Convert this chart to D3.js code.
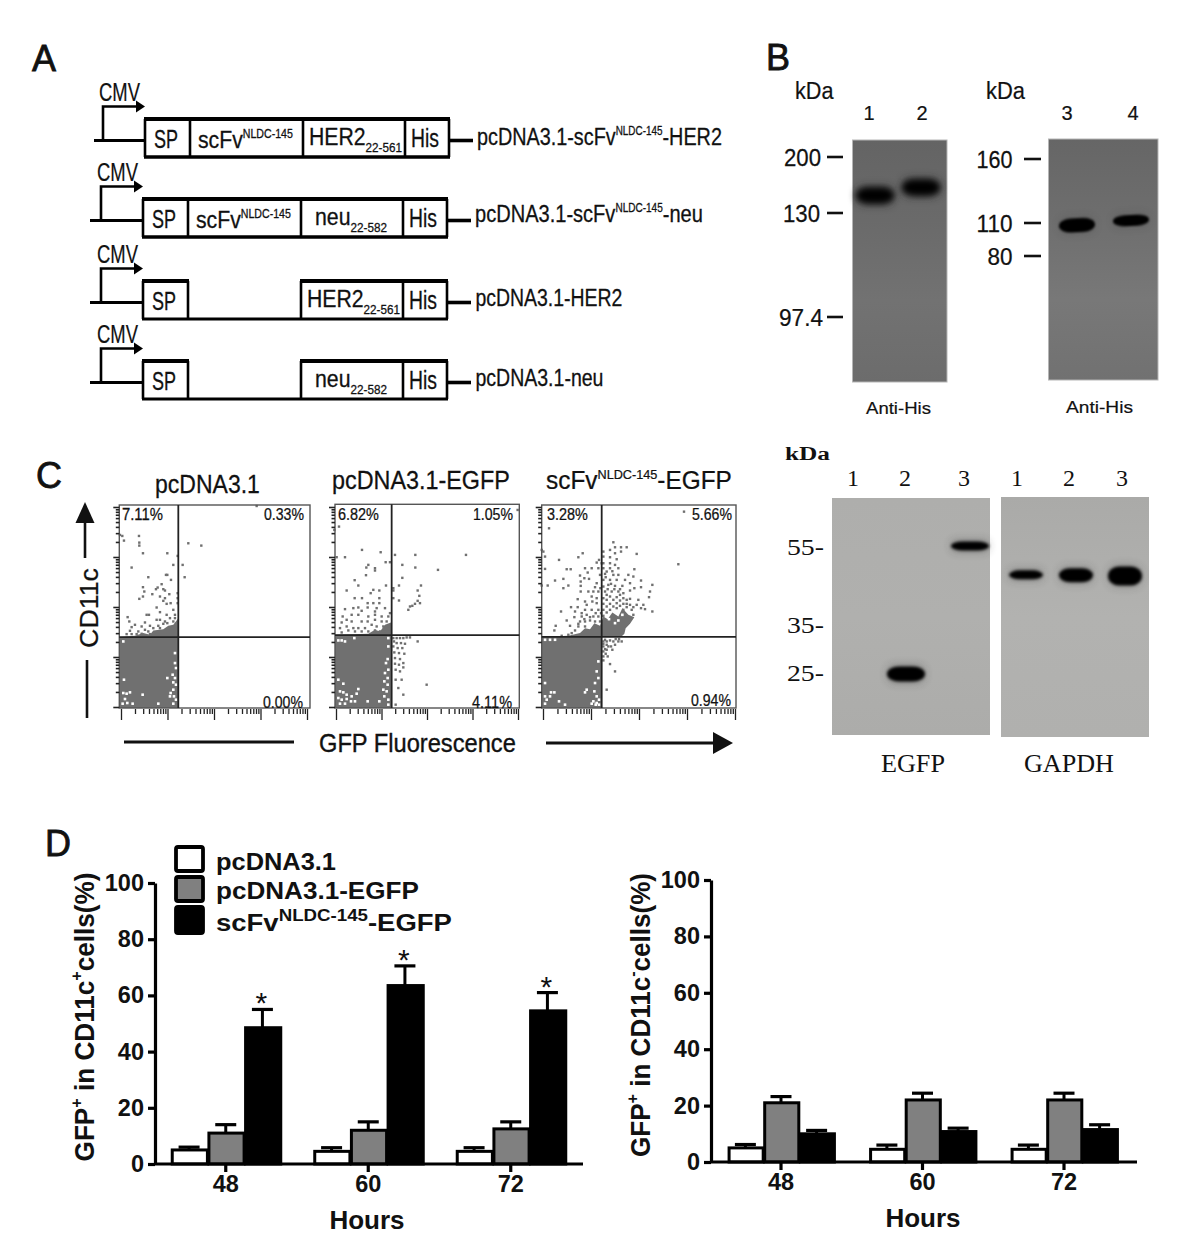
<!DOCTYPE html>
<html><head><meta charset="utf-8">
<script src="https://cdn.jsdelivr.net/npm/d3@7/dist/d3.min.js"></script>
<style>html,body{margin:0;padding:0;background:#fff}svg{display:block}</style>
</head><body><svg id="fig" width="1200" height="1260"></svg>
<script>
/* ---------- DATA ---------- */
// Panel A
const constructNames = [
  ["pcDNA3.1-scFv",["NLDC-145","sup"],"-HER2"],
  ["pcDNA3.1-scFv",["NLDC-145","sup"],"-neu"],
  ["pcDNA3.1-HER2"],
  ["pcDNA3.1-neu"]
];
const constructHasScFv = [true, true, false, false];
const constructInsert = [["HER2",["22-561","sub"]],["neu",["22-582","sub"]],["HER2",["22-561","sub"]],["neu",["22-582","sub"]]];
// Panel B
const blotB1Markers = [200, 130, 97.4];
const blotB1Lanes = ["1","2"];
const blotB1Bands = [152, 162];
const blotB1Signal = [8, 8];
const blotB2Markers = [160, 110, 80];
const blotB2Lanes = ["3","4"];
const blotB2Bands = [108, 112];
const blotB2Signal = [7, 5.5];
// Panel C blots
const westernMarkers = [55, 35, 25];
const westernLanes = ["1","2","3"];
const egfpBands = [null, 24.6, 55];
const egfpSignal = [0, 7.5, 4.5];
const gapdhBands = [47.6, 47.5, 47.3];
const gapdhSignal = [4.5, 7, 9.5];
// Panel C flow plots (channel readings, x then y)
const flowTitles = [["pcDNA3.1"],["pcDNA3.1-EGFP"],["scFv",["NLDC-145","sup"],"-EGFP"]];
const flowPercents = [["7.11%","0.33%","0.00%"],["6.82%","1.05%","4.11%"],["3.28%","5.66%","0.94%"]];
const flowDense1 = [[28,412],[75,408],[100,400],[120,405],[130,392],[160,388],[175,378],[190,375],[205,355],[205,625],[28,625]];
const flowDense2 = [[30,405],[130,402],[150,390],[165,395],[180,375],[198,368],[198,625],[30,625]];
const flowDense3 = [[20,412],[100,408],[135,400],[150,385],[165,388],[178,370],[195,378],[205,350],[218,358],[232,338],[250,350],[262,325],[280,345],[298,352],[285,372],[272,385],[268,402],[258,412],[200,412],[200,625],[20,625]];
const flowGaps1 = [[40,425],[195,460],[195,490],[198,505],[172,535],[188,525],[195,535],[190,548],[198,555],[42,540],[190,570],[182,580],[192,590],[180,590],[198,600],[40,580],[50,582],[60,578],[45,598],[52,610],[38,612],[68,612],[98,585],[145,612],[190,612]];
const flowGaps2 = [[40,422],[50,422],[60,425],[88,415],[190,415],[190,440],[188,478],[183,490],[190,510],[180,520],[188,535],[178,545],[188,555],[175,570],[185,575],[178,590],[190,600],[40,540],[55,552],[45,575],[55,578],[65,585],[80,590],[95,582],[100,568],[40,595],[50,600],[65,598],[78,605],[60,612],[45,612],[90,605],[128,605],[163,605],[190,615]];
const flowGaps3 = [[30,420],[45,420],[60,420],[190,485],[185,515],[190,535],[180,550],[30,550],[30,590],[48,578],[58,578],[35,600],[45,590],[72,605],[90,615],[150,578],[155,570],[178,575],[185,590],[175,605],[185,610],[192,600],[170,612],[182,615],[192,615],[30,612],[240,370],[222,358],[250,362],[262,345]];
const flowDots1 = [[30,105],[37,108],[42,122],[87,108],[88,128],[88,137],[99,160],[172,160],[203,168],[190,195],[218,195],[65,203],[168,225],[172,225],[115,232],[183,240],[224,232],[235,130],[274,137],[155,253],[143,263],[99,262],[138,268],[160,268],[165,272],[103,275],[127,283],[99,290],[88,297],[150,290],[165,295],[178,283],[160,303],[182,310],[170,312],[203,280],[203,295],[203,310],[140,323],[190,330],[110,345],[117,345],[150,337],[195,345],[170,345],[53,352],[58,365],[105,368],[140,360],[150,360],[165,365],[180,355],[195,355],[75,375],[65,382],[95,380],[120,378],[145,378],[160,372],[172,370],[190,365],[60,393],[85,395],[105,390],[115,395],[130,385],[150,385],[80,403],[95,402],[50,403],[65,403],[120,403],[440,18]];
const flowDots2 = [[42,80],[28,90],[111,150],[167,157],[35,172],[60,172],[210,165],[271,165],[423,165],[182,187],[195,187],[130,195],[124,203],[150,205],[150,212],[232,195],[271,203],[339,210],[123,226],[89,241],[232,234],[100,257],[183,257],[222,257],[288,257],[205,265],[65,272],[145,270],[137,280],[163,272],[205,272],[278,272],[283,288],[89,295],[111,295],[163,295],[205,295],[222,302],[278,303],[285,310],[270,312],[262,318],[255,320],[250,330],[128,310],[145,310],[163,310],[100,323],[85,325],[60,328],[128,323],[155,325],[180,325],[110,333],[150,335],[195,340],[53,350],[80,345],[100,345],[130,350],[150,345],[170,350],[190,350],[65,360],[50,368],[80,365],[110,365],[128,365],[150,360],[170,365],[185,365],[65,380],[45,385],[85,385],[100,385],[120,385],[140,375],[155,380],[175,380],[190,380],[70,392],[90,395],[110,395],[130,395],[150,392],[165,395],[180,395],[195,395],[50,398],[205,415],[215,415],[225,415],[235,415],[245,413],[255,413],[278,425],[207,425],[215,430],[228,430],[240,432],[205,440],[218,445],[232,445],[208,458],[222,460],[238,462],[210,475],[225,478],[235,490],[210,492],[222,495],[235,503],[212,510],[225,515],[212,540],[230,540],[305,555],[220,565],[235,585],[212,615],[578,30]];
const flowDots3 = [[42,85],[235,127],[275,142],[240,142],[258,142],[225,150],[240,160],[258,155],[20,150],[25,155],[30,170],[143,160],[130,172],[205,155],[305,162],[72,180],[192,180],[185,188],[205,170],[225,172],[245,178],[430,193],[205,190],[225,190],[240,195],[30,207],[95,208],[107,208],[150,205],[170,205],[190,205],[205,205],[225,205],[250,205],[298,208],[158,218],[135,227],[148,235],[162,237],[195,225],[210,222],[235,225],[250,225],[280,225],[295,230],[60,242],[85,237],[137,245],[185,250],[205,240],[225,240],[245,240],[270,240],[318,242],[20,257],[38,257],[100,257],[85,265],[137,258],[180,262],[205,260],[220,255],[240,258],[262,258],[285,250],[352,255],[318,262],[298,265],[137,275],[175,275],[190,275],[210,275],[230,275],[250,275],[265,280],[285,272],[345,275],[342,292],[128,298],[170,290],[185,295],[205,295],[225,290],[245,292],[265,295],[285,297],[310,300],[150,305],[155,315],[128,322],[108,322],[185,310],[205,312],[225,312],[245,310],[265,312],[285,315],[305,315],[325,315],[78,335],[120,335],[150,330],[170,330],[190,330],[205,330],[225,330],[245,325],[265,330],[290,330],[318,325],[330,328],[352,335],[118,352],[140,350],[155,345],[175,350],[190,350],[205,348],[95,362],[135,365],[150,365],[165,362],[180,365],[195,365],[105,378],[130,380],[150,380],[62,378],[58,392],[120,392],[100,405],[80,408],[110,400],[205,425],[215,425],[235,425],[250,425],[205,440],[220,440],[240,435],[205,455],[215,450],[232,450],[205,470],[218,470],[205,482],[225,493],[240,515],[215,570],[210,420],[260,425],[447,35],[200,190],[215,215],[228,252],[196,265],[160,275],[172,305],[140,340],[215,300],[255,285],[275,300],[295,345],
  [212,232],[232,214],[218,268],[238,268],[255,268],[215,285],[235,300],[255,302],[275,312],[215,320],[235,320],[255,318],[275,322],[295,322],[215,338],[198,340],[182,340],[165,352],[148,358],[130,372],[205,408],[215,435],[228,440],[210,448],[225,422],[242,418],[252,418],[205,432],[212,462]];
// Panel D
const hours = ["48","60","72"];
const seriesNames = [["pcDNA3.1"],["pcDNA3.1-EGFP"],["scFv",["NLDC-145","sup"],"-EGFP"]];
const yTicks = [0,20,40,60,80,100];
const posMeans = [[5,4.5,4.5],[11,12,12.5],[48.5,63.5,54.5]];
const posTops  = [[6,5.8,5.8],[14,15,15],[55,70.5,61]];
const negMeans = [[5,4.5,4.5],[21,22,22],[10,10.8,11.5]];
const negTops  = [[6.2,6,6],[23.2,24.4,24.4],[11.2,12,13.2]];
const posStars = [true,true,true];

/* ---------- HELPERS ---------- */
const SANS="'Liberation Sans',Arial,sans-serif", SERIF="'Liberation Serif','Times New Roman',serif";
const svg=d3.select("#fig");
svg.append("rect").attr("width",1200).attr("height",1260).attr("fill","#fff");
const defs=svg.append("defs");
[[1,"blur1"],[1.6,"blur2"],[3,"blur3"],[4.5,"blur4"]].forEach(([s,id])=>{
  defs.append("filter").attr("id",id).attr("x","-50%").attr("y","-150%").attr("width","200%").attr("height","400%")
    .append("feGaussianBlur").attr("stdDeviation",s);
});
function grad(id,stops){
  const g=defs.append("linearGradient").attr("id",id).attr("x1",0).attr("y1",0).attr("x2",0).attr("y2",1);
  stops.forEach((c,i)=>g.append("stop").attr("offset",i/(stops.length-1)).attr("stop-color",c));
}
grad("gB1",["#646464","#6a6a6a","#727272","#6c6c6c"]);
grad("gB2",["#666666","#6e6e6e","#787878","#717171"]);
grad("gC1",["#aeaeac","#b0b0ae","#acacaa"]);
grad("gC2",["#aaaaa8","#b2b2b0","#b0b0ae"]);

function label(parent,parts,x,y,o={}){
  const size=o.size||20;
  const t=parent.append("text").attr("font-family",o.family||SANS).attr("font-size",size)
    .attr("font-weight",o.weight||"normal").attr("fill",o.fill||"#111").attr("text-anchor",o.anchor||"start")
    .attr("y",0.36*size);
  if(o.heavy) t.attr("stroke",o.fill||"#111").attr("stroke-width",o.heavy);
  const arr=Array.isArray(parts)?parts:[parts];
  let shift=0;
  arr.forEach(p=>{
    const kind=Array.isArray(p)?p[1]:null, str=Array.isArray(p)?p[0]:p;
    const target=kind==="sup"?-(o.supRise||0.42)*size:kind==="sub"?0.3*size:0;
    const ts=t.append("tspan").text(str).attr("dy",target-shift);
    if(kind) ts.attr("font-size",(o.scriptScale||0.62)*size);
    shift=target;
  });
  const len=t.node().getComputedTextLength();
  const sx=o.width?o.width/len:1;
  t.attr("transform",`translate(${x},${y}) rotate(${o.rot||0}) scale(${sx},1)`);
  return t;
}

/* ---------- PANEL LETTERS ---------- */
[["A",32,58],["B",766,57],["C",36,475],["D",45,843]].forEach(([s,x,y])=>
  label(svg,s,x,y,{size:36,fill:"#111",heavy:0.8}));

/* ---------- PANEL A ---------- */
const rowTop=[119,199,281,361], rowDx=[0,-2,-2,-2], rowH=38;
const cmvDx=[0,-2,-2,-2], lineX0=[94,90,90,90];
const insertW=[93,72,93,72], insertX=[309,315,307,315], nameW=[245,228,147,128], nameY=[136,213,297,377], nameX=[477,475,475.5,475.5];
const gA=svg.append("g");
constructNames.forEach((name,i)=>{
  const g=gA.append("g"), d=rowDx[i], top=rowTop[i], bot=top+rowH, midY=top+21.5;
  const X=[145+d,190+d,303+d,405+d,449+d];
  const ln=(x1,y1,x2,y2,w=2.6)=>g.append("line").attr("x1",x1).attr("y1",y1).attr("x2",x2).attr("y2",y2).attr("stroke","#000").attr("stroke-width",w);
  ln(lineX0[i],midY,X[0],midY,3.2); ln(X[4],midY,X[4]+24,midY,3.6);
  if(constructHasScFv[i]) ln(X[0]-1,top,X[4]+1,top,4);
  else { ln(X[0]-1,top,X[1]+1,top,4); ln(X[2]-1,top,X[4]+1,top,4); }
  ln(X[0]-1,bot,X[4]+1,bot,constructHasScFv[i]?3.6:3.2);
  ln(X[0],top,X[0],bot); ln(X[1],top,X[1],bot); ln(X[2],top,X[2],bot); ln(X[3],top,X[3],bot); ln(X[4],top,X[4],bot);
  const ty=top+20;
  label(g,"SP",154+d,ty,{size:25,width:24,heavy:0.3});
  if(constructHasScFv[i]) label(g,["scFv",["NLDC-145","sup"]],198+d,ty,{size:24,width:95,scriptScale:0.5,supRise:0.42,heavy:0.3});
  label(g,constructInsert[i],insertX[i],ty-3,{size:24,width:insertW[i],scriptScale:0.55,heavy:0.3});
  label(g,"His",411+d,ty-1,{size:25,width:28,heavy:0.3});
  label(g,name,nameX[i],nameY[i],{size:24,width:nameW[i],scriptScale:0.5,supRise:0.42,heavy:0.3});
  // promoter arrow
  const vx=103+cmvDx[i], ay=midY-34;
  g.append("path").attr("fill","none").attr("stroke","#000").attr("stroke-width",2.6).attr("d",`M${vx},${midY}V${ay}H${vx+36}`);
  g.append("path").attr("fill","#000").attr("d",`M${vx+33},${ay-6}L${vx+42},${ay}L${vx+33},${ay+6}Z`);
  label(g,"CMV",vx-4,ay-15,{size:25,width:41,heavy:0.2});
});

/* ---------- BLOT DRAWER ---------- */
function blot(o){
  const g=svg.append("g");
  g.append("rect").attr("x",o.x0).attr("y",o.y0).attr("width",o.x1-o.x0).attr("height",o.y1-o.y0)
    .attr("fill",`url(#${o.fill})`).attr("stroke",o.border||"none").attr("stroke-width",1);
  const y=d3.scaleLinear().domain(o.markers).range(o.markerY);
  const x=d3.scaleOrdinal().domain(o.lanes).range(o.bandX);
  o.lanes.forEach((l,i)=>{
    if(o.bands[i]==null) return;
    const cy=y(o.bands[i]), ry=o.signal[i], rx=o.rx;
    const tf=o.tilt?`rotate(${o.tilt},${x(l)},${cy})`:null;
    g.append("rect").attr("x",x(l)-rx).attr("y",cy-ry-1.5).attr("width",2*rx).attr("height",2*ry+3).attr("rx",ry).attr("ry",ry)
      .attr("fill","#222").attr("opacity",o.halo==null?0.35:o.halo).attr("filter","url(#blur4)").attr("transform",tf);
    g.append("rect").attr("x",x(l)-rx).attr("y",cy-ry).attr("width",2*rx).attr("height",2*ry).attr("rx",rx*0.65).attr("ry",ry)
      .attr("fill","#040404").attr("filter",`url(#${o.blur})`).attr("transform",tf);
  });
  return {g,y};
}
const b1=blot({x0:852.5,x1:947,y0:140,y1:382,fill:"gB1",border:"#b5b5b5",markers:blotB1Markers,markerY:[157,213,317],lanes:blotB1Lanes,bandX:[875,921],bands:blotB1Bands,signal:blotB1Signal,rx:19,blur:"blur3",halo:0.5});
const b2=blot({x0:1048.5,x1:1158,y0:139,y1:380,fill:"gB2",border:"#b5b5b5",markers:blotB2Markers,markerY:[159,223,256],lanes:blotB2Lanes,bandX:[1077,1131],bands:blotB2Bands,signal:blotB2Signal,rx:18,blur:"blur1",tilt:-3,halo:0.15});
const gB=svg.append("g");
blotB1Markers.forEach((m,i)=>{
  gB.append("line").attr("x1",827).attr("x2",843).attr("y1",b1.y(m)).attr("y2",b1.y(m)).attr("stroke","#111").attr("stroke-width",2.6);
  label(gB,String(m),[821,820,823][i],b1.y(m),{size:24,anchor:"end",width:i===2?44:37,heavy:0.25});
});
blotB2Markers.forEach((m,i)=>{
  gB.append("line").attr("x1",1024).attr("x2",1041).attr("y1",b2.y(m)).attr("y2",b2.y(m)).attr("stroke","#111").attr("stroke-width",2.6);
  label(gB,String(m),1012.5,b2.y(m),{size:24,anchor:"end",width:i===2?25:36,heavy:0.25});
});
label(gB,"kDa",795,90,{size:24,width:38.5,heavy:0.2}); label(gB,"kDa",986,90,{size:24,width:39,heavy:0.2});
[["1",869],["2",922],["3",1067],["4",1133]].forEach(([s,x])=>label(gB,s,x,113,{size:20,anchor:"middle",heavy:0.2}));
label(gB,"Anti-His",866,408,{size:17,width:65,heavy:0.2}); label(gB,"Anti-His",1066,407,{size:17,width:67,heavy:0.2});

/* ---------- WESTERN BLOTS ---------- */
const w1=blot({x0:832,x1:990,y0:498,y1:735,fill:"gC1",markers:westernMarkers,markerY:[546,624,672],lanes:westernLanes,bandX:[853,906,970],bands:egfpBands,signal:egfpSignal,rx:19,blur:"blur2",halo:0.3});
blot({x0:1001,x1:1149,y0:497,y1:737,fill:"gC2",markers:westernMarkers,markerY:[546,624,672],lanes:westernLanes,bandX:[1026,1076,1125],bands:gapdhBands,signal:gapdhSignal,rx:17,blur:"blur2",halo:0.25});
const gW=svg.append("g");
label(gW,"kDa",785,454,{size:18,weight:"bold",family:SERIF,width:45});
[853,905,964,1017,1069,1122].forEach((x,i)=>label(gW,westernLanes[i%3],x,477,{size:24,family:SERIF,anchor:"middle"}));
westernMarkers.forEach(m=>label(gW,m+"-",787,w1.y(m),{size:24,family:SERIF,width:37}));
label(gW,"EGFP",881,763,{size:25,family:SERIF,width:64});
label(gW,"GAPDH",1024,763,{size:25,family:SERIF,width:90});

/* ---------- FLOW PLOTS ---------- */
const flowBoxes=[
  {x0:119.3,x1:310,y0:505,y1:708,cx:[28,600],cy:[625,15],gx:205,gy:412,dx:[121,307],dense:flowDense1,gaps:flowGaps1,dots:flowDots1,
   tL:122,tR:304,tB:702,titleX:155,titleW:105,titleY:484},
  {x0:335,x1:519.3,y0:504.3,y1:708,cx:[30,583],cy:[625,13],gx:200,gy:406,dx:[336,518],dense:flowDense2,gaps:flowGaps2,dots:flowDots2,
   tL:338,tR:513,tB:702,titleX:332,titleW:178,titleY:480},
  {x0:541.7,x1:736,y0:505,y1:708,cx:[20,603],cy:[625,15],gx:200,gy:411,dx:[543,735],dense:flowDense3,gaps:flowGaps3,dots:flowDots3,
   tL:547,tR:732,tB:700,titleX:546,titleW:186,titleY:480}
];
const logTicks=[]; [1,10,100,1000].forEach(d=>[1,2,3,4,5,6,7,8,9].forEach(m=>logTicks.push(m*d))); logTicks.push(10000);
const isMajor=v=>Math.abs(Math.log10(v)%1)<1e-9;
const DOT="#707070";
flowBoxes.forEach((b,k)=>{
  const g=svg.append("g");
  const x=d3.scaleLinear().domain(b.cx).range([b.x0,b.x1]);
  const y=d3.scaleLinear().domain(b.cy).range([b.y1,b.y0]);
  g.append("path").attr("d",d3.line().x(d=>x(d[0])).y(d=>y(d[1]))(b.dense)+"Z").attr("fill",DOT);
  g.selectAll("rect.dot").data(b.dots).join("rect").attr("class","dot")
    .attr("x",d=>x(d[0])-1.2).attr("y",d=>y(d[1])-1.2).attr("width",2.4).attr("height",2.4).attr("fill",DOT);
  g.selectAll("rect.gap").data(b.gaps).join("rect").attr("class","gap")
    .attr("x",d=>x(d[0])-1.3).attr("y",d=>y(d[1])-1.3).attr("width",2.6).attr("height",2.6).attr("fill","#fff");
  g.append("rect").attr("x",b.x0).attr("y",b.y0).attr("width",b.x1-b.x0).attr("height",b.y1-b.y0)
    .attr("fill","none").attr("stroke","#555").attr("stroke-width",1.4);
  g.append("line").attr("x1",x(b.gx)).attr("x2",x(b.gx)).attr("y1",b.y0).attr("y2",b.y1).attr("stroke","#222").attr("stroke-width",1.8);
  g.append("line").attr("x1",b.x0).attr("x2",b.x1).attr("y1",y(b.gy)).attr("y2",y(b.gy)).attr("stroke","#222").attr("stroke-width",1.8);
  const lx=d3.scaleLog().domain([1,10000]).range(b.dx);
  const ly=d3.scaleLog().domain([1,10000]).range([707,507]);
  const ax=g.append("g").attr("transform",`translate(0,${b.y1+1})`).call(d3.axisBottom(lx).tickValues(logTicks).tickFormat(""));
  ax.select(".domain").remove();
  ax.selectAll(".tick line").attr("stroke","#222").attr("stroke-width",1.3).attr("y2",d=>isMajor(d)?11:5);
  const ay=g.append("g").attr("transform",`translate(${b.x0},0)`).call(d3.axisLeft(ly).tickValues(logTicks).tickFormat(""));
  ay.select(".domain").remove();
  ay.selectAll(".tick line").attr("stroke","#222").attr("stroke-width",1.6).attr("x2",d=>isMajor(d)?-6:-3.5);
  const P=flowPercents[k];
  label(g,P[0],b.tL,514,{size:16,width:41,heavy:0.25});
  label(g,P[1],b.tR,514,{size:16,anchor:"end",width:40,heavy:0.25});
  label(g,P[2],b.tR-1,b.tB,{size:16,anchor:"end",width:40,heavy:0.25});
  label(g,flowTitles[k],b.titleX,b.titleY,{size:25,width:b.titleW,scriptScale:0.52,heavy:0.25});
});
const gC=svg.append("g");
label(gC,"CD11c",89,608,{size:25,rot:-90,anchor:"middle",width:80,heavy:0.25});
gC.append("line").attr("x1",87).attr("x2",87).attr("y1",660).attr("y2",718).attr("stroke","#111").attr("stroke-width",2.6);
gC.append("line").attr("x1",85).attr("x2",85).attr("y1",558).attr("y2",520).attr("stroke","#111").attr("stroke-width",2.6);
gC.append("path").attr("fill","#111").attr("d","M85,502L94.5,523H75.5Z");
label(gC,"GFP Fluorescence",319,743,{size:25,width:197,heavy:0.35});
gC.append("line").attr("x1",124).attr("x2",294).attr("y1",742).attr("y2",742).attr("stroke","#111").attr("stroke-width",3);
gC.append("line").attr("x1",546).attr("x2",716).attr("y1",743).attr("y2",743).attr("stroke","#111").attr("stroke-width",3);
gC.append("path").attr("fill","#111").attr("d","M713,732L733,743L713,754Z");

/* ---------- PANEL D ---------- */
const fills=["#fff","#808080","#000"];
function barChart(o){
  const g=svg.append("g");
  const y=d3.scaleLinear().domain([0,100]).range([o.y0,o.y100]);
  const x=d3.scaleBand().domain(hours).range(o.xr).paddingInner(o.pad).paddingOuter(o.pad/2);
  const inner=d3.scaleBand().domain(d3.range(3)).range([0,x.bandwidth()]);
  hours.forEach((h,hi)=>{
    d3.range(3).forEach(s=>{
      const bx=x(h)+inner(s), bw=inner.bandwidth(), cx=bx+bw/2;
      g.append("line").attr("x1",cx).attr("x2",cx).attr("y1",y(o.means[s][hi])).attr("y2",y(o.tops[s][hi])).attr("stroke","#000").attr("stroke-width",3);
      g.append("line").attr("x1",cx-10.5).attr("x2",cx+10.5).attr("y1",y(o.tops[s][hi])).attr("y2",y(o.tops[s][hi])).attr("stroke","#000").attr("stroke-width",3.2);
      g.append("rect").attr("x",bx+1.5).attr("y",y(o.means[s][hi])).attr("width",bw-1.5).attr("height",y(0)-y(o.means[s][hi]))
        .attr("fill",fills[s]).attr("stroke","#000").attr("stroke-width",3);
      if(s===2 && o.stars && o.stars[hi]){
        label(g,"*",cx-1,y(o.tops[s][hi])-14,{size:30,anchor:"middle",fill:"#111"}).attr("y",18);
      }
    });
  });
  const ya=g.append("g").attr("transform",`translate(${o.axisX},0)`).call(d3.axisLeft(y).tickValues(yTicks).tickSize(7).tickSizeOuter(0));
  ya.select(".domain").attr("stroke","#000").attr("stroke-width",3.2);
  ya.selectAll(".tick line").attr("stroke","#000").attr("stroke-width",3.2);
  ya.selectAll(".tick text").attr("font-family",SANS).attr("font-weight","bold").attr("font-size",23.5).attr("fill","#111").attr("dx",-1);
  const xa=g.append("g").attr("transform",`translate(0,${o.y0})`).call(d3.axisBottom(x).tickSize(8).tickSizeOuter(0));
  xa.select(".domain").remove();
  g.append("line").attr("x1",o.axisX).attr("x2",o.xEnd).attr("y1",o.y0).attr("y2",o.y0).attr("stroke","#000").attr("stroke-width",3.2);
  xa.selectAll(".tick line").attr("stroke","#000").attr("stroke-width",3.2);
  xa.selectAll(".tick text").attr("font-family",SANS).attr("font-weight","bold").attr("font-size",23.5).attr("fill","#111").attr("dy",17);
  label(g,o.ylabel,o.ylx,o.yly,{size:27,weight:"bold",rot:-90,anchor:"middle",width:o.ylw,scriptScale:0.62});
  label(g,"Hours",o.hx,o.hy,{size:26,weight:"bold",anchor:"middle"});
}
barChart({y0:1164,y100:883,axisX:155,xr:[154.5,582],pad:0.228,xEnd:583,means:posMeans,tops:posTops,stars:posStars,
  ylabel:["GFP",["+","sup"]," in CD11c",["+","sup"],"cells(%)"],ylx:84,yly:1017,ylw:289,hx:367,hy:1220});
barChart({y0:1162,y100:880,axisX:711,xr:[710.25,1134.75],pad:0.245,xEnd:1137,means:negMeans,tops:negTops,
  ylabel:["GFP",["+","sup"]," in CD11c",["-","sup"],"cells(%)"],ylx:640,yly:1015,ylw:284,hx:923,hy:1218});
// legend
const gL=svg.append("g");
const legendBoxY=[847,877,907], legendH=[24,24,26], legendTextY=[861,890,922], legendW=[120,203,236];
seriesNames.forEach((name,i)=>{
  gL.append("rect").attr("x",176).attr("y",legendBoxY[i]).attr("width",27).attr("height",legendH[i]).attr("rx",2)
    .attr("fill",fills[i]).attr("stroke","#000").attr("stroke-width",3.8);
  label(gL,name,216,legendTextY[i],{size:24,weight:"bold",width:legendW[i],scriptScale:0.68,supRise:0.4});
});
</script></body></html>
